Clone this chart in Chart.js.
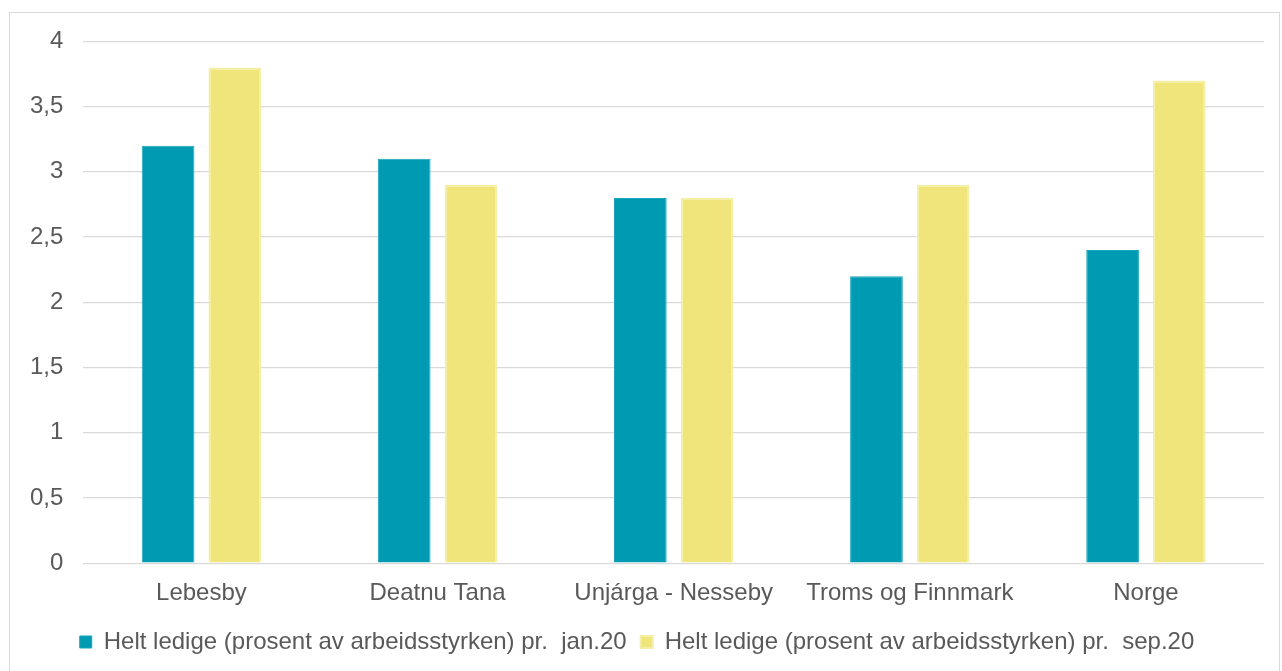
<!DOCTYPE html>
<html>
<head>
<meta charset="utf-8">
<script src="https://cdn.jsdelivr.net/npm/chart.js@4.4.1/dist/chart.umd.min.js"></script>
<style>
  html, body { margin: 0; padding: 0; background: #ffffff; }
  #frame {
    position: absolute;
    left: 9px;
    top: 12px;
    width: 1271px;
    height: 670px;
    border: 1px solid #d9d9d9;
    box-sizing: border-box;
  }
  #chartBox { position: absolute; left: 0; top: -6px; width: 1269px; height: 675px; }
</style>
</head>
<body>
<div id="frame">
  <div id="chartBox"><canvas id="jobsChart"></canvas></div>
</div>
<script>
const categories = ["Lebesby", "Deatnu Tana", "Unjárga - Nesseby", "Troms og Finnmark", "Norge"];
const janValues = [3.2, 3.1, 2.8, 2.2, 2.4];
const sepValues = [3.8, 2.9, 2.8, 2.9, 3.7];
const seriesNames = [
  "Helt ledige (prosent av arbeidsstyrken) pr.  jan.20",
  "Helt ledige (prosent av arbeidsstyrken) pr.  sep.20"
];
const yTicks = [0, 0.5, 1, 1.5, 2, 2.5, 3, 3.5, 4];

const textColor = "#595959";
const fontSpec = { family: "'Liberation Sans', Arial, sans-serif", size: 24 };

Chart.defaults.font.family = fontSpec.family;
Chart.defaults.color = textColor;

new Chart(document.getElementById("jobsChart"), {
  type: "bar",
  data: {
    labels: categories,
    datasets: [
      {
        label: seriesNames[0],
        data: janValues,
        backgroundColor: "#009ab3",
        borderColor: "#19a5bc",
        borderWidth: 1,
        categoryPercentage: 0.565,
        barPercentage: 0.79
      },
      {
        label: seriesNames[1],
        data: sepValues,
        backgroundColor: "#efe57a",
        borderColor: "#f5eea6",
        borderWidth: 2,
        categoryPercentage: 0.565,
        barPercentage: 0.79
      }
    ]
  },
  options: {
    responsive: true,
    maintainAspectRatio: false,
    animation: false,
    layout: { padding: { top: 0, right: 15, bottom: 18, left: 0 } },
    plugins: {
      tooltip: { enabled: false },
      legend: {
        position: "bottom",
        labels: {
          boxWidth: 12,
          boxHeight: 12,
          padding: 14,
          font: fontSpec,
          color: textColor
        }
      }
    },
    scales: {
      x: {
        grid: { display: false },
        border: { display: false },
        ticks: { font: fontSpec, color: textColor, padding: 8 }
      },
      y: {
        min: 0,
        max: 4,
        afterBuildTicks: (axis) => {
          axis.ticks = yTicks.map((value) => ({ value }));
        },
        grid: { color: "#d9d9d9", lineWidth: 1.3, drawTicks: false },
        border: { display: false },
        ticks: {
          font: fontSpec,
          color: textColor,
          padding: 20,
          callback: (value) => String(value).replace(".", ",")
        }
      }
    }
  }
});
</script>
</body>
</html>
